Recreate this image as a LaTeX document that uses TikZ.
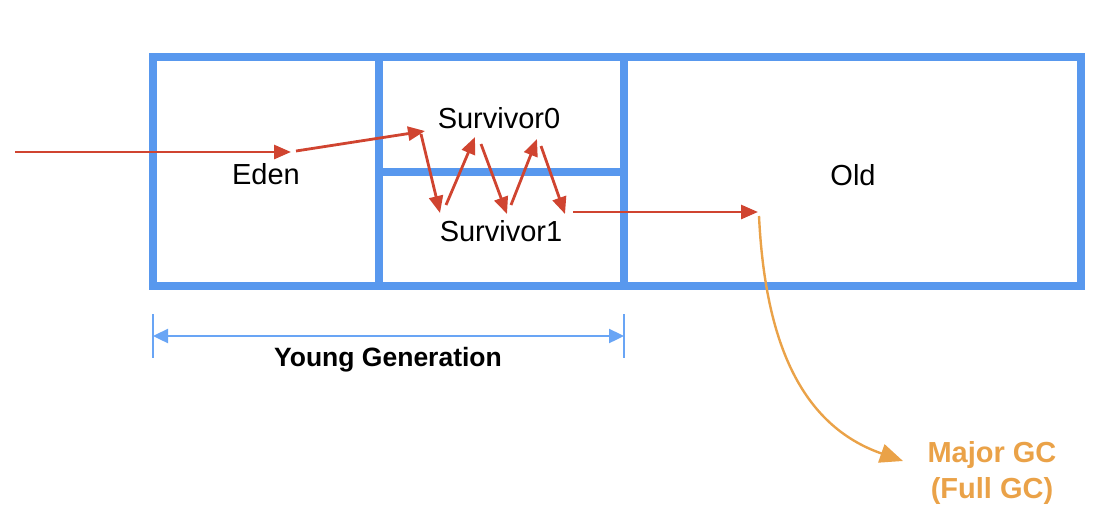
\documentclass[tikz,border=0pt]{standalone}
\usepackage{fontspec}
\setmainfont{Liberation Sans}
\usetikzlibrary{arrows.meta}
\definecolor{boxblue}{RGB}{88,152,238}
\definecolor{dimblue}{RGB}{105,165,245}
\definecolor{arrred}{RGB}{208,68,48}
\definecolor{gcorange}{RGB}{234,162,72}
\tikzset{
  region/.style={draw=boxblue,line width=8pt},
  lbl/.style={font=\fontsize{29}{33}\selectfont,text=black,inner sep=0pt},
  redarrow/.style={draw=arrred,line width=2.8pt,-{Triangle[length=17pt,width=14pt]}},
  dimline/.style={draw=dimblue,line width=2.4pt},
  dimarrow/.style={draw=dimblue,line width=2.4pt,{Triangle[length=15pt,width=14pt]}-{Triangle[length=15pt,width=14pt]}},
  gcarrow/.style={draw=gcorange,line width=2.4pt,-{Triangle[length=23pt,width=19pt]}},
}
\begin{document}
\begin{tikzpicture}[x=1pt,y=-1pt]
\useasboundingbox (0,0) rectangle (1104,528);
% memory regions
\draw[region] (153,57) rectangle (1081,286);
\draw[region] (379,57) -- (379,286);
\draw[region] (624,57) -- (624,286);
\draw[region] (379,172) -- (624,172);
% labels
\node[lbl] (eden) at (266,174) {Eden};
\node[lbl] (s0) at (499,118) {Survivor0};
\node[lbl] (s1) at (501,231) {Survivor1};
\node[lbl] (old) at (853,175) {Old};
% red path
\coordinate (in) at (15,152);
\coordinate (e1) at (291,152);
\coordinate (e2) at (296,151);
\coordinate (a0) at (425,131);
\coordinate (a1) at (421,134);
\coordinate (b0) at (440,213);
\coordinate (b1) at (446,205);
\coordinate (c0) at (475,137);
\coordinate (c1) at (481,144);
\coordinate (d0) at (507,214);
\coordinate (d1) at (511,205);
\coordinate (f0) at (537,139);
\coordinate (f1) at (541,146);
\coordinate (g0) at (565,214);
\coordinate (g1) at (573,212);
\coordinate (oldin) at (758,212);
\draw[redarrow] (in) -- (e1);
\draw[redarrow] (e2) -- (a0);
\draw[redarrow] (a1) -- (b0);
\draw[redarrow] (b1) -- (c0);
\draw[redarrow] (c1) -- (d0);
\draw[redarrow] (d1) -- (f0);
\draw[redarrow] (f1) -- (g0);
\draw[redarrow] (g1) -- (oldin);
% young generation dimension
\coordinate (yl) at (153,336);
\coordinate (yr) at (624,336);
\draw[dimline] (153,314) -- (153,358);
\draw[dimline] (624,314) -- (624,358);
\draw[dimarrow] (yl) -- (yr);
\node[font=\bfseries\fontsize{26.5}{30}\selectfont,inner sep=0pt] (young) at (388,360) {Young Generation};
% major GC
\node[font=\bfseries\fontsize{29}{36}\selectfont,text=gcorange,align=center,inner sep=0pt] (gc) at (992,473) {Major GC\\(Full GC)};
\coordinate (gcstart) at (759,216);
\coordinate (gcend) at (903,461);
\draw[gcarrow] (gcstart) .. controls (765,340) and (800,425) .. (gcend);
\end{tikzpicture}
\end{document}
